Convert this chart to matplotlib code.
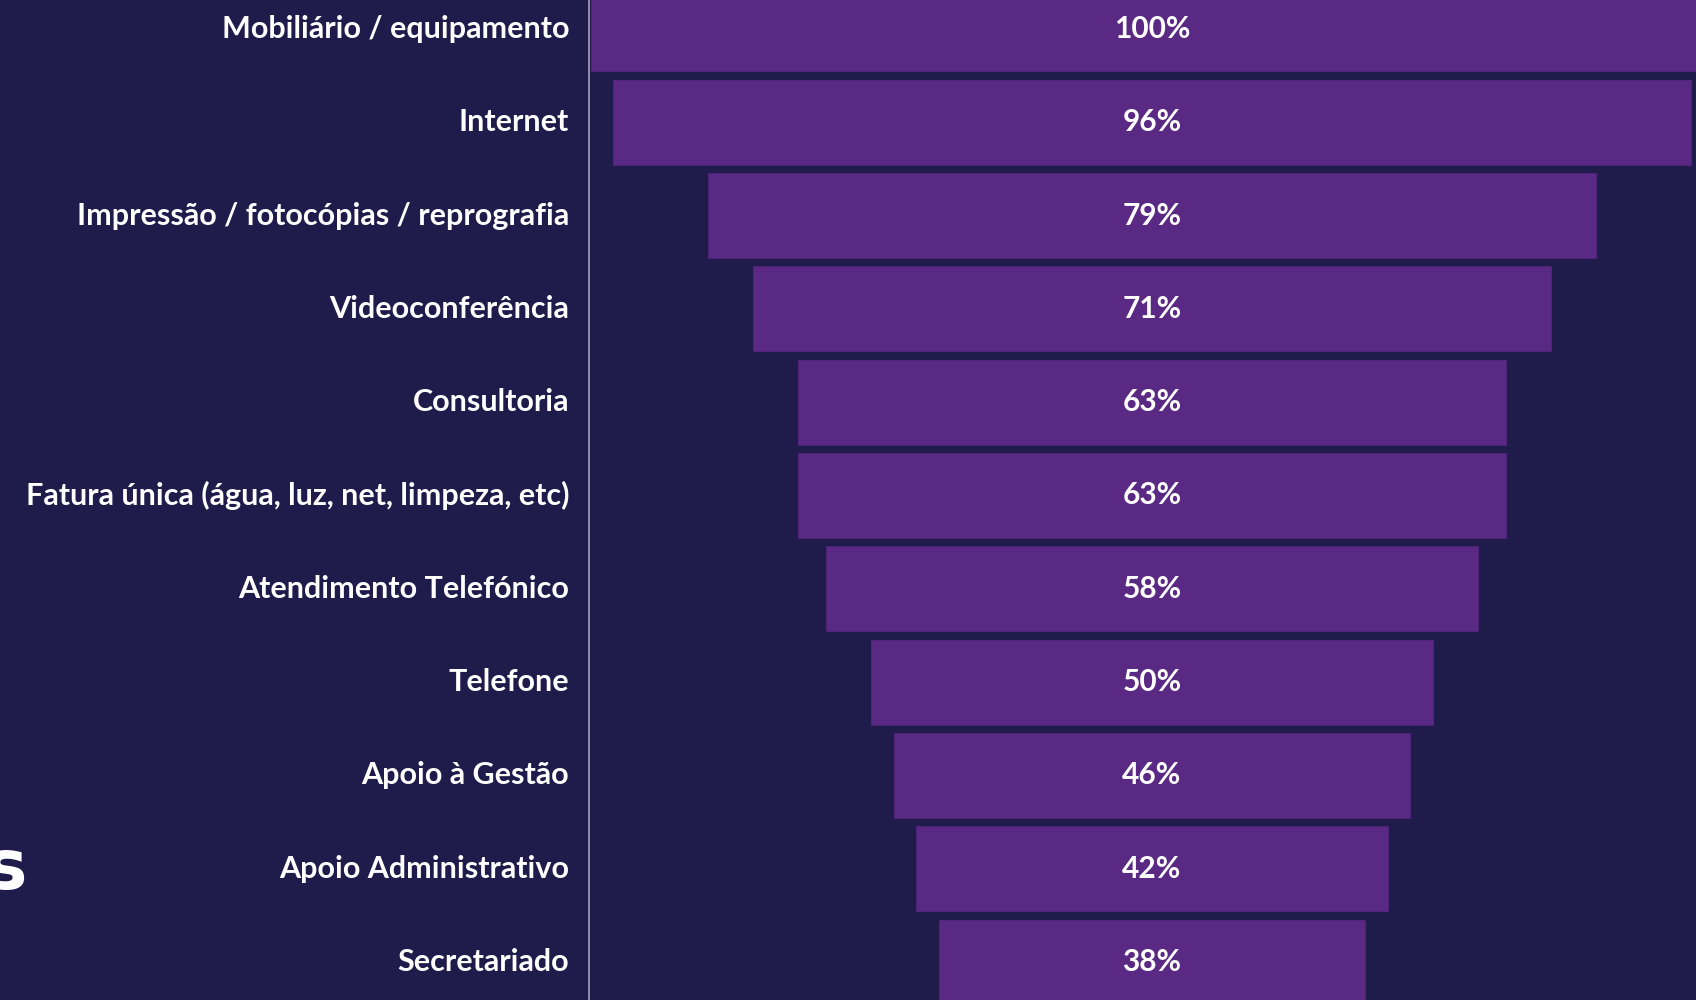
import matplotlib
matplotlib.use("Agg")
import matplotlib.pyplot as plt

categories = [
    "Mobiliário / equipamento",
    "Internet",
    "Impressão / fotocópias / reprografia",
    "Videoconferência",
    "Consultoria",
    "Fatura única (água, luz, net, limpeza, etc)",
    "Atendimento Telefónico",
    "Telefone",
    "Apoio à Gestão",
    "Apoio Administrativo",
    "Secretariado",
]
values = [100, 96, 79, 71, 63, 63, 58, 50, 46, 42, 38]

BG = "#1F1B4A"
BAR = "#5A2983"
EDGE = "#4F2478"

plt.rcParams['font.family'] = ['Lato', 'DejaVu Sans']

fig = plt.figure(figsize=(16.96, 10), dpi=100, facecolor=BG)
ax = fig.add_axes([0, 0, 1, 1])
ax.set_facecolor(BG)

px_per_unit = 11.23
center_px = 1152
x0 = -center_px / px_per_unit
x1 = (1696 - center_px) / px_per_unit
pitch = 93.3
row0 = 29
ax.set_xlim(x0, x1)
ax.set_ylim((1000 - row0) / pitch, -row0 / pitch)

ys = list(range(len(categories)))
ax.barh(ys, values, left=[-v / 2 for v in values], height=0.91,
        color=BAR, edgecolor=EDGE, linewidth=0.8)

for y, v, c in zip(ys, values, categories):
    ax.text(0, y, f"{v}%", ha="center", va="center", color="white",
            fontsize=21.5, fontweight="bold")
    ax.text(-51.9, y, c, ha="right", va="center", color="white",
            fontsize=22, fontweight="bold")

ax.axvline(-50.1, color="#9A98B0", linewidth=1.3)

for s in ax.spines.values():
    s.set_visible(False)
ax.set_xticks([])
ax.set_yticks([])

fig.text(27 / 1696, 1 - 862 / 1000, "s", ha="right", va="center_baseline",
         color="white", fontsize=50, fontweight="bold", family=["DejaVu Sans"])

fig.savefig("out.png", dpi=100, facecolor=BG)
